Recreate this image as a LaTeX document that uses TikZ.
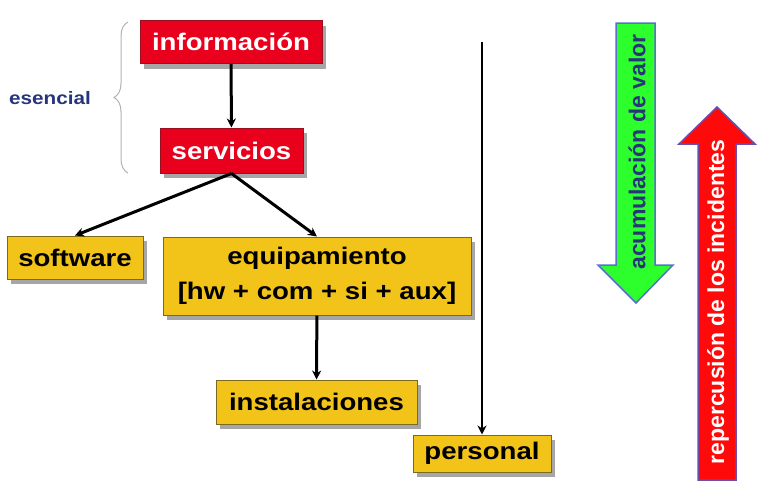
\documentclass[tikz,border=0pt]{standalone}
\usepackage{fontspec}
\setmainfont{Liberation Sans}[FakeStretch=1.15]
\newfontfamily\plainsans{Liberation Sans}
\usetikzlibrary{arrows.meta,shadows,decorations.pathreplacing}
\definecolor{boxred}{HTML}{E8001C}
\definecolor{boxyellow}{HTML}{F2C318}
\definecolor{yellowline}{HTML}{7A6A20}
\definecolor{redline}{HTML}{9A1020}
\definecolor{navy}{HTML}{27357A}
\definecolor{arrowgreen}{HTML}{2CFF2C}
\definecolor{greenline}{HTML}{5A6FD0}
\definecolor{arrowred}{HTML}{FF0A0A}
\definecolor{purpleline}{HTML}{6A4FB0}

\tikzset{
  asset/.style={draw,line width=1pt,inner sep=0pt,align=center,font=\bfseries\fontsize{24}{35}\selectfont,
    drop shadow={shadow xshift=4pt,shadow yshift=-5pt,fill=black,opacity=.35}},
  redasset/.style={asset,fill=boxred,draw=redline,text=white},
  yellowasset/.style={asset,fill=boxyellow,draw=yellowline},
  link/.style={->,line width=3pt},
}

\begin{document}
\begin{tikzpicture}[x=1pt,y=-1pt,>={Stealth[length=9pt,width=9pt]}]
\useasboundingbox (0,0) rectangle (771,499);
\node[redasset,minimum width=182pt,minimum height=43pt] (info) at (231,42) {información};
\node[redasset,minimum width=143pt,minimum height=45pt] (serv) at (231.5,150.5) {servicios};
\node[yellowasset,minimum width=136pt,minimum height=43pt] (soft) at (75,257.5) {software};
\node[yellowasset,minimum width=308pt,minimum height=78pt] (equip) at (317,276) {equipamiento\\{}[hw + com + si + aux]};
\node[yellowasset,minimum width=201pt,minimum height=44pt] (inst) at (316.5,402) {instalaciones};
\node[yellowasset,minimum width=138pt,minimum height=37pt] (pers) at (482,453.5) {personal};
\coordinate (top) at (482,42);
\draw[link] (info)--(serv);
\draw[link] (serv.south)--(soft.north);
\draw[link] (serv.south)--(equip.north);
\draw[link] (equip)--(inst);
\draw[link,line width=2.5pt] (top)--(pers);
% brace
\draw[gray!60,line width=1pt,decorate,decoration={brace,amplitude=14pt}] (128,173)--(128,22);
\node[text=navy,font=\bfseries\fontsize{18}{20}\selectfont] (esencial) at (50,98) {esencial};
% arrows at the side
\draw[fill=arrowgreen,draw=greenline,line width=1.5pt] (616,23)--(655,23)--(655,265)--(673,265)--(636,303)--(598,265)--(616,265)--cycle;
\node[rotate=90,text=navy,font=\plainsans\bfseries\fontsize{23}{24}\selectfont] (valor) at (637,152) {acumulación de valor};
\draw[fill=arrowred,draw=purpleline,line width=1.5pt] (698,480)--(736,480)--(736,144)--(755,144)--(717,107)--(679,144)--(698,144)--cycle;
\node[rotate=90,text=white,font=\plainsans\bfseries\fontsize{23}{24}\selectfont] (incid) at (718,302) {repercusión de los incidentes};
\end{tikzpicture}
\end{document}
